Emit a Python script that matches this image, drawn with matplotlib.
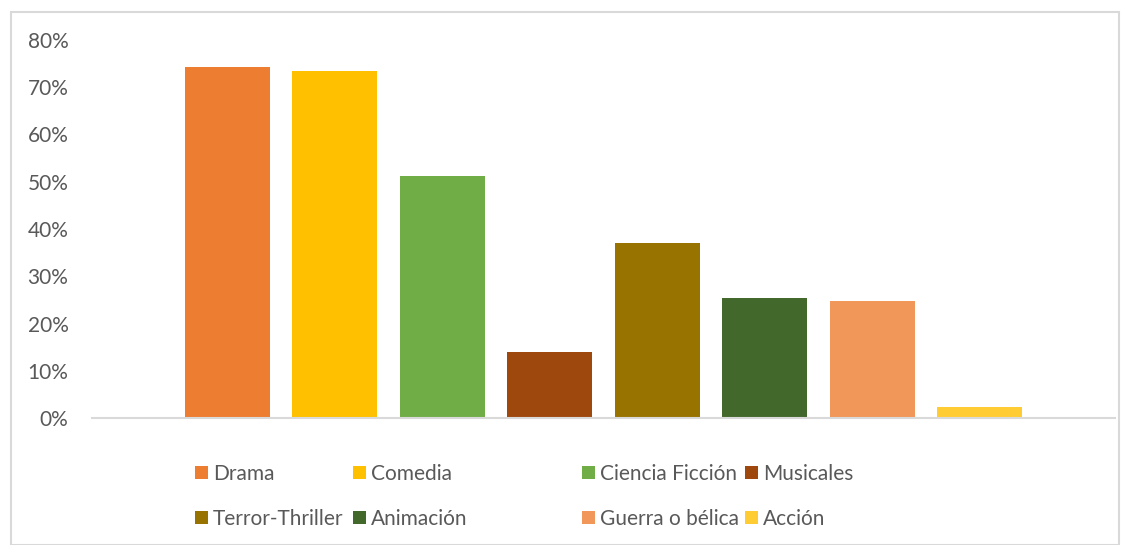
import matplotlib.pyplot as plt
from matplotlib.patches import Rectangle
from matplotlib.ticker import PercentFormatter

genres = ['Drama', 'Comedia', 'Ciencia Ficción', 'Musicales',
          'Terror-Thriller', 'Animación', 'Guerra o bélica', 'Acción']
values = [0.743, 0.734, 0.512, 0.140, 0.370, 0.254, 0.248, 0.023]
colors = ['#ED7D31', '#FFC000', '#70AD47', '#9E480E',
          '#997300', '#43682B', '#F1975A', '#FFCD33']

plt.rcParams['font.family'] = ['Lato', 'DejaVu Sans']
text_col = '#595959'

fig = plt.figure(figsize=(11.29, 5.45), dpi=100)
W, H = 1129, 545
ax = fig.add_axes([92 / W, (H - 418) / H, (1115 - 92) / W, (418 - 40) / H])

handles = []
for i, (g, v, c) in enumerate(zip(genres, values, colors)):
    b = ax.bar(i, v, width=0.79, color=c, label=g)
    handles.append(b)

ax.set_xlim(-1.26, 8.26)
ax.set_ylim(0, 0.8)
ax.set_yticks([i / 10 for i in range(9)])
ax.yaxis.set_major_formatter(PercentFormatter(1.0, decimals=0))
ax.tick_params(axis='y', length=0, pad=17, labelsize=15, labelcolor=text_col)
ax.set_xticks([])
for s in ['top', 'right', 'left']:
    ax.spines[s].set_visible(False)
ax.spines['bottom'].set_color('#D9D9D9')
ax.spines['bottom'].set_linewidth(1.5)

# legend entries laid out like the Excel legend (4 columns x 2 rows)
col_x = [195, 353, 582, 745]
row_y = [474, 519]
for k, (h, g) in enumerate(zip(handles, genres)):
    x = col_x[k % 4]
    y = row_y[k // 4]
    fig.legend([h], [g], loc='center left', bbox_to_anchor=(x / W, (H - y) / H),
               frameon=False, fontsize=15, labelcolor=text_col,
               handlelength=0.6, handleheight=0.6, handletextpad=0.25,
               borderpad=0, borderaxespad=0)

fig.patches.append(Rectangle((11 / W, 0), (1119 - 11) / W, (H - 12) / H,
                             transform=fig.transFigure, fill=False,
                             edgecolor='#D9D9D9', linewidth=1.5))

fig.savefig('out.png', dpi=100)
